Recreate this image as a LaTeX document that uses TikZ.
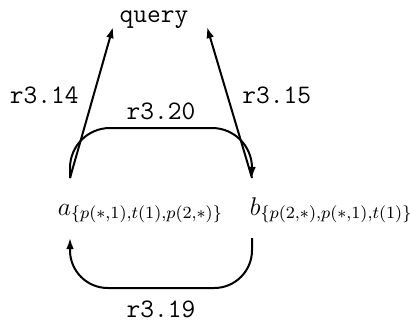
\documentclass[tikz,border=0pt]{standalone}
\usepackage{amsmath,amssymb}
\usepackage{tikz}
\usetikzlibrary{positioning,arrows.meta,calc}

\begin{document}
\begin{tikzpicture}[>={Latex[length=5pt,width=3.5pt]},x=0.45pt,y=0.45pt,line width=0.9pt,every node/.style={font=\large}]
\tikzstyle{lbl}=[font=\large\ttfamily]
\tikzstyle{vtx}=[inner sep=0pt,scale=0.96]
\useasboundingbox (0,0) rectangle (410,322);
\node[lbl,anchor=base] (query) at (154,300) {query};
\node[vtx,anchor=base west] (a) at (57,107) {$a_{\{p(*,1),t(1),p(2,*)\}}$};
\node[vtx,anchor=base west] (b) at (249,107) {$b_{\{p(2,*),p(*,1),t(1)\}}$};
% ends of the arcs
\coordinate (aout) at ([shift={(13,37)}]a.base west);
\coordinate (ain) at ([shift={(13,-23)}]a.base west);
\coordinate (bin) at ([shift={(3,37)}]b.base west);
\coordinate (bout) at ([shift={(3,-23)}]b.base west);
\draw[->] (aout) -- node[lbl,pos=0.55,left=3pt] {r3.14} ([shift={(-41,-5)}]query.base);
\draw[->] (bin) -- node[lbl,pos=0.55,right=3pt] {r3.15} ([shift={(53,-5)}]query.base);
\draw[->,rounded corners=18pt] (aout) -- ++(0,50) -- node[lbl,above] {r3.20} ++(182,0) -- (bin);
\draw[->,rounded corners=17pt] (bout) -- ++(0,-50) -- node[lbl,below=2pt] {r3.19} ++(-182,0) -- (ain);
\end{tikzpicture}
\end{document}
